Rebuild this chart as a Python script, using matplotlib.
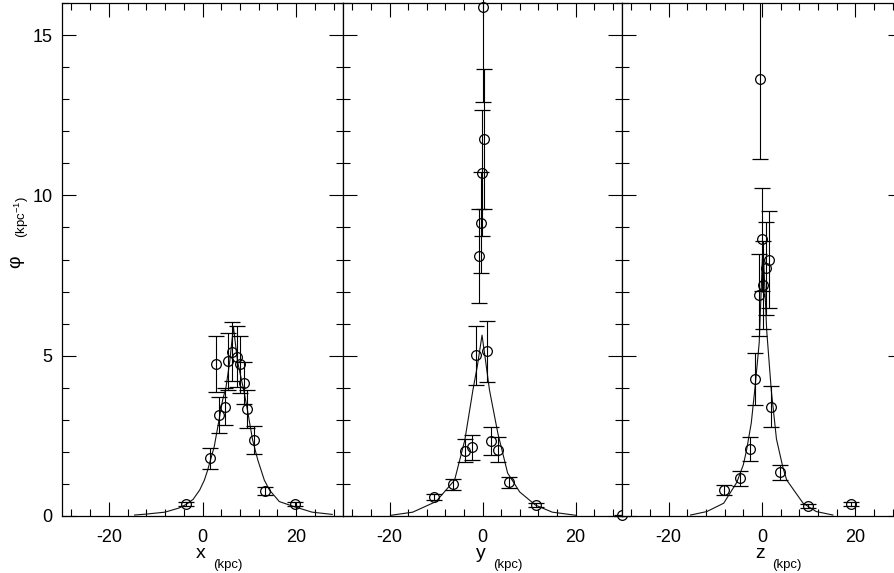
import matplotlib
matplotlib.use('Agg')
import matplotlib.pyplot as plt
from matplotlib.ticker import MultipleLocator, FixedLocator
from matplotlib.transforms import blended_transform_factory

plt.rcParams['font.family'] = ['Liberation Sans', 'DejaVu Sans']
plt.rcParams['mathtext.fontset'] = 'custom'
plt.rcParams['mathtext.rm'] = 'Liberation Sans'
plt.rcParams['mathtext.it'] = 'Liberation Sans'

# ---------------- data ----------------
# panel x
x_pos = [-3.5, 1.6, 2.9, 3.6, 4.7, 5.5, 6.3, 7.3, 8.1, 8.8, 9.5, 10.9, 13.3, 19.8]
x_val = [0.37, 1.80, 4.73, 3.15, 3.41, 4.82, 5.12, 4.97, 4.73, 4.14, 3.34, 2.37, 0.79, 0.37]
x_err = [0.07, 0.33, 0.87, 0.56, 0.58, 0.90, 0.92, 0.95, 0.88, 0.65, 0.58, 0.45, 0.13, 0.07]
x_curve_x = [-14.5, -12.0, -8.0, -5.0, -3.5, -2.0, -0.6, 0.4, 1.1, 2.5, 4.3, 5.0, 5.8, 6.6,
             7.5, 8.8, 9.6, 10.7, 11.8, 13.2, 14.3, 16.4, 19.6, 23.4, 27.7]
x_curve_y = [0.03, 0.06, 0.12, 0.25, 0.36, 0.52, 0.81, 1.12, 1.43, 2.16, 3.62, 4.00, 4.80, 5.90,
             4.80, 3.93, 3.30, 2.37, 1.75, 1.12, 0.81, 0.45, 0.29, 0.12, 0.05]

# panel y
y_pos = [-0.8, -0.3, -0.06, 0.43, 0.2, -1.3, 1.0, -3.8, -2.3, 1.8, 3.3, -6.4, 5.7, -10.4, 11.4, 30.0]
y_val = [8.11, 9.15, 10.69, 11.76, 15.88, 5.02, 5.14, 2.04, 2.14, 2.34, 2.07, 0.99, 1.05, 0.60, 0.34, 0.02]
y_err = [1.48, 1.57, 1.97, 2.18, 2.96, 0.92, 0.95, 0.36, 0.39, 0.43, 0.39, 0.17, 0.18, 0.10, 0.05, 0.01]
y_curve_x = [-19.8, -15.0, -10.0, -6.0, -3.8, -2.06, -1.13, -0.1, 0.64, 1.5, 3.3, 5.4, 8.0, 11.4, 15.0, 20.2]
y_curve_y = [0.02, 0.12, 0.45, 1.12, 2.37, 3.93, 4.66, 5.64, 4.86, 3.93, 2.58, 1.34, 0.75, 0.34, 0.12, 0.02]

# panel z
z_pos = [0.06, 1.55, 0.85, 0.28, -0.57, -1.5, 1.85, -2.55, -4.8, -8.1, 3.8, 9.9, 19.0, -0.5]
z_val = [8.63, 8.00, 7.72, 7.20, 6.89, 4.27, 3.41, 2.08, 1.17, 0.81, 1.36, 0.31, 0.37, 13.63]
z_err = [1.60, 1.50, 1.46, 1.37, 1.28, 0.80, 0.63, 0.37, 0.22, 0.15, 0.23, 0.06, 0.07, 2.50]
z_curve_x = [-15.3, -11.8, -8.2, -5.4, -4.0, -3.3, -2.3, -1.5, -0.6, 0.2, 1.0, 2.0, 3.1, 4.5,
             5.3, 8.8, 11.6, 15.2]
z_curve_y = [0.03, 0.14, 0.40, 1.05, 1.60, 2.06, 2.90, 4.00, 5.40, 8.50, 5.80, 3.90, 2.40, 1.50,
             1.12, 0.40, 0.14, 0.03]

axis_letters = ['x', 'y', 'z']
sub_label = '(kpc)'
ytick_vals = [0, 5, 10, 15]

# ---------------- layout ----------------
W, H = 894, 573
fig = plt.figure(figsize=(W / 100, H / 100), dpi=100)
bottom_px, top_px = 516, 3
edges = [(62, 343), (343, 622), (622, 902)]

panels = [(x_pos, x_val, x_err, x_curve_x, x_curve_y),
          (y_pos, y_val, y_err, y_curve_x, y_curve_y),
          (z_pos, z_val, z_err, z_curve_x, z_curve_y)]

for i, ((l, r), (pos, val, err, cx, cy)) in enumerate(zip(edges, panels)):
    ax = fig.add_axes([l / W, 1 - bottom_px / H, (r - l) / W, (bottom_px - top_px) / H])
    ax.set_xlim(-30, 30)
    ax.set_ylim(0, 16)
    ax.plot(cx, cy, color='#111111', lw=0.8)
    ax.errorbar(pos, val, yerr=err, fmt='o', mfc='none', mec='black', mew=0.9, ms=7,
                ecolor='black', elinewidth=0.8, capsize=5.5, capthick=0.8, color='black',
                clip_on=False if i == 1 else True)
    ax.xaxis.set_major_locator(FixedLocator([-20, 0, 20]))
    ax.xaxis.set_minor_locator(MultipleLocator(4))
    ax.yaxis.set_major_locator(FixedLocator(ytick_vals))
    ax.yaxis.set_minor_locator(MultipleLocator(1))
    ax.tick_params(which='both', direction='in', top=True, right=True, width=0.8, colors='black')
    ax.tick_params(which='major', length=10)
    ax.tick_params(which='minor', length=5)
    ax.tick_params(axis='x', which='major', labelsize=13, pad=9)
    ax.tick_params(axis='y', which='major', labelsize=13, pad=7)
    if i > 0:
        ax.set_yticklabels([])
    for s in ax.spines.values():
        s.set_linewidth(0.9)
    ax.set_xticklabels(['-20', '0', '20'])
    tr = blended_transform_factory(ax.transData, fig.transFigure)
    ax.text(-0.3, 1 - 558 / H, axis_letters[i], transform=tr, ha='center', va='baseline',
            fontsize=14)
    ax.text(2.2, 1 - 568 / H, sub_label, transform=tr, ha='left', va='baseline', fontsize=9.5)

# y label
fig.text(16 / W, 1 - 262 / H, 'φ', rotation=90, ha='center', va='center', fontsize=14)
fig.text(22 / W, 1 - 217 / H, r'$\mathrm{(kpc^{-1})}$', rotation=90, ha='center', va='center',
         fontsize=9.5)

fig.savefig('out.png', dpi=100)
